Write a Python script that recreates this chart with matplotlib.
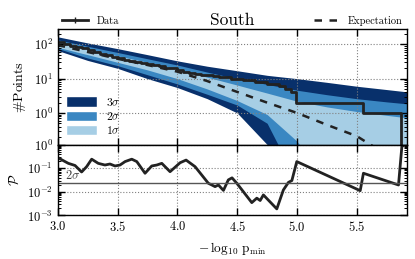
import numpy as np
import matplotlib
matplotlib.use("Agg")
import matplotlib.pyplot as plt
from matplotlib.patches import Patch
from matplotlib.lines import Line2D

plt.rcParams['font.family'] = 'serif'
plt.rcParams['font.serif'] = ['cmr10']
plt.rcParams['mathtext.fontset'] = 'cm'
plt.rcParams['axes.formatter.use_mathtext'] = True
plt.rcParams['axes.unicode_minus'] = False

# --- top panel: cumulative number of points above threshold ---
data_x = [3.00, 3.05, 3.10, 3.15, 3.20, 3.25, 3.30, 3.35, 3.40, 3.45, 3.50,
          3.55, 3.60, 3.65, 3.70, 3.75, 3.80, 3.85, 3.90, 3.95, 4.00, 4.05,
          4.10, 4.15, 4.20, 4.25, 4.30, 4.35, 4.40, 4.45, 4.50, 4.55, 4.60,
          4.65, 4.70, 4.75, 4.80, 4.85, 4.90, 4.95, 4.99, 5.55, 5.87, 5.95]
data_n = [114, 102, 92, 84, 78, 69, 60, 53, 48, 43, 39,
          36, 33, 31, 29, 27, 25, 23, 21, 20, 18, 16,
          15, 14, 13, 13, 12, 11, 11, 10, 10, 9, 9,
          8, 8, 7, 7, 6, 5, 4, 2, 1, 0, 0]

grid_x = [3.0, 3.25, 3.5, 3.75, 4.0, 4.25, 4.5, 4.75, 5.0, 5.25, 5.5, 5.75, 5.95]
expect = [95, 60, 38, 25, 16, 8.5, 4.1, 2.0, 1.0, 0.45, 0.21, 0.06, 0.015]
up3 = [166, 110, 75, 50, 33, 23, 17, 12.5, 10, 7.8, 6.0, 4.8, 4.0]
up2 = [135, 88, 58, 38, 25, 15.5, 10, 6.8, 4.6, 3.4, 2.6, 2.1, 1.8]
up1 = [112, 72, 46, 30, 19, 11, 6.5, 3.8, 2.2, 1.5, 1.1, 0.85, 0.7]
lo1 = [82, 50, 30, 18, 10, 5.0, 2.3, 0.9, 0.15, 0.01, 0.01, 0.01, 0.01]
lo2 = [76, 40, 24, 13, 7, 3.5, 1.7, 0.5, 0.01, 0.01, 0.01, 0.01, 0.01]
lo3 = [66, 34, 20, 10, 5.5, 2.6, 1.0, 0.12, 0.01, 0.01, 0.01, 0.01, 0.01]

# --- bottom panel: p-value of the excess ---
p_x = [3.000, 3.089, 3.145, 3.200, 3.242, 3.284, 3.339, 3.395, 3.437, 3.479,
       3.521, 3.563, 3.619, 3.661, 3.730, 3.786, 3.828, 3.870, 3.939, 4.023,
       4.073, 4.148, 4.259, 4.288, 4.315, 4.343, 4.385, 4.426, 4.457, 4.497,
       4.622, 4.664, 4.692, 4.719, 4.831, 4.886, 4.928, 4.957, 4.998, 5.528,
       5.555, 5.848, 5.876, 5.918]
p_val = [0.28, 0.16, 0.13, 0.069, 0.116, 0.24, 0.16, 0.136, 0.15, 0.124,
         0.136, 0.19, 0.24, 0.19, 0.061, 0.124, 0.136, 0.16, 0.071, 0.17,
         0.22, 0.116, 0.023, 0.0195, 0.0166, 0.0195, 0.0115, 0.032, 0.039, 0.023,
         0.0035, 0.0054, 0.0043, 0.0074, 0.0019, 0.012, 0.025, 0.030, 0.19, 0.0112,
         0.061, 0.0195, 0.81, 1.16]
two_sigma = 0.02275

c3, c2, c1 = '#08306b', '#3a87c2', '#a6cee5'

fig = plt.figure(figsize=(4.15, 2.59), dpi=100)
ax = fig.add_axes([0.139, 0.442, 0.842, 0.446])
axp = fig.add_axes([0.139, 0.168, 0.842, 0.274], sharex=ax)

ax.fill_between(grid_x, lo3, up3, color=c3, lw=0)
ax.fill_between(grid_x, lo2, up2, color=c2, lw=0)
ax.fill_between(grid_x, lo1, up1, color=c1, lw=0)
ax.plot(grid_x, expect, color='#222222', ls='--', lw=1.8, dashes=(3, 3))
ax.plot(data_x, data_n, color='#222222', lw=2, drawstyle='steps-post')
ax.set_yscale('log')
ax.set_ylim(0.12, 280)
ax.set_xlim(3.0, 5.92)
ax.set_ylabel(r'$\#$Points', fontsize=10)
ax.set_title('South', fontsize=12.5, pad=3)
ax.grid(True, ls=':', color='gray', lw=0.8)
ax.tick_params(labelbottom=False)

axp.plot(p_x, p_val, color='#222222', lw=2)
axp.axhline(two_sigma, color='#555555', lw=1)
axp.text(3.06, two_sigma * 1.2, r'$2\sigma$', fontsize=9, color='#444444',
         va='bottom', ha='left')
axp.set_yscale('log')
axp.set_ylim(1e-3, 1)
axp.set_yticks([1e-3, 1e-2, 1e-1, 1])
axp.set_ylabel(r'$\mathcal{P}$', fontsize=10)
axp.set_xlabel(r'$-\,\log_{10}\,\mathrm{p}_{\mathrm{min}}$', fontsize=9.5)
axp.grid(True, ls=':', color='gray', lw=0.8)
axp.set_xticks([3.0, 3.5, 4.0, 4.5, 5.0, 5.5])

for a in (ax, axp):
    a.tick_params(which='both', direction='in', top=True, right=True, labelsize=9)
    a.tick_params(which='major', length=5, width=1)
    a.tick_params(which='minor', length=2.5, width=0.7)
    for s in a.spines.values():
        s.set_linewidth(1)

band_leg = ax.legend(handles=[Patch(facecolor=c3, edgecolor='white', label=r'$3\sigma$'),
                              Patch(facecolor=c2, edgecolor='white', label=r'$2\sigma$'),
                              Patch(facecolor=c1, edgecolor='white', label=r'$1\sigma$')],
                     loc='lower left', frameon=False, fontsize=8.5, handlelength=2.6,
                     handleheight=1.0, labelspacing=0.2, borderaxespad=0.3)
ax.add_artist(band_leg)
data_leg = ax.legend(handles=[Line2D([], [], color='#222222', lw=2, marker='|', ms=5)],
                     labels=['Data'], loc='lower left', bbox_to_anchor=(0.0, 0.99),
                     frameon=False, fontsize=7.5, handlelength=2.5, borderaxespad=0)
ax.add_artist(data_leg)
ax.legend(handles=[Line2D([], [], color='#222222', lw=1.8, ls='--', dashes=(3, 3))],
          labels=['Expectation'], loc='lower right', bbox_to_anchor=(1.0, 0.99),
          frameon=False, fontsize=7.5, handlelength=2.5, borderaxespad=0)

fig.savefig('out.png', dpi=100)
